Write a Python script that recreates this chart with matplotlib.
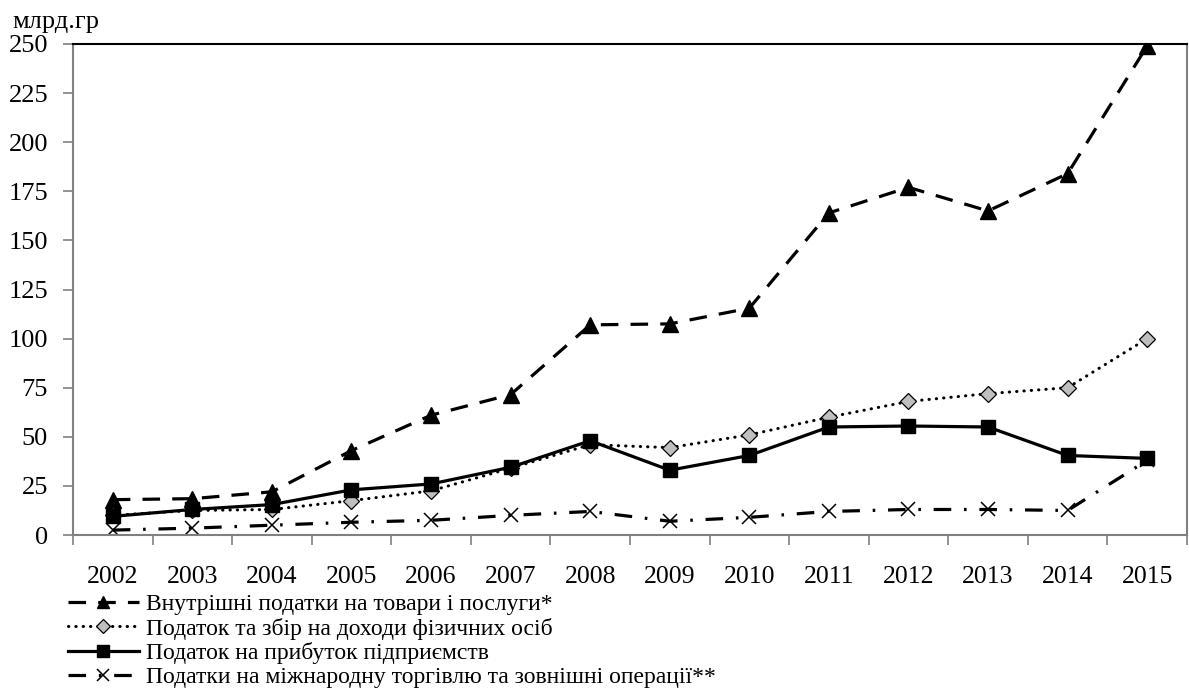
import numpy as np
import matplotlib
matplotlib.use("Agg")
import matplotlib.pyplot as plt

plt.rcParams['font.family'] = ['Liberation Serif', 'DejaVu Serif']

# data (млрд. грн)
years = ['2002', '2003', '2004', '2005', '2006', '2007', '2008',
         '2009', '2010', '2011', '2012', '2013', '2014', '2015']
vnutr = [18, 18.5, 22, 43, 61, 71.5, 107, 107.5, 115.5, 164, 177, 165, 184, 249]
pdfo = [10, 12.5, 13, 17.5, 22.5, 34, 46, 44.5, 51, 60, 68, 72, 75, 100]
prybutok = [9.5, 13, 15.5, 23, 26, 34.5, 48, 33, 40.5, 55, 55.5, 55, 40.5, 39]
mizhn = [2.5, 3.5, 5, 6.5, 7.5, 10, 12, 7, 9, 12, 13, 13, 12.5, 38]

labels = ['Внутрішні податки на товари і послуги*',
          'Податок та збір на доходи фізичних осіб',
          'Податок на прибуток підприємств',
          'Податки на міжнародну торгівлю та зовнішні операції**']

fig = plt.figure(figsize=(11.89, 6.96), dpi=100)
ax = fig.add_axes([0.0614, 0.2313, 0.9369, 0.7055])

x = np.arange(len(years))
ax.plot(x, vnutr, color='black', lw=2.3, dashes=(5.5, 3.8), marker='^', ms=11,
        mfc='black', mec='black', label=labels[0], zorder=3)
ax.plot(x, pdfo, color='black', lw=2.2, linestyle=(0, (0.1, 2.3)), dash_capstyle='round',
        marker='D', ms=8.5, mfc='#bfbfbf', mec='black', mew=0.9, label=labels[1], zorder=4)
ax.plot(x, prybutok, color='black', lw=2.3, linestyle='-', marker='s', ms=10.5,
        mfc='black', mec='black', label=labels[2], zorder=5)
ax.plot(x, mizhn, color='black', lw=2.3, dashes=(5.5, 4, 0.8, 4), marker='x', ms=10,
        mew=1.1, mec='black', label=labels[3], zorder=2)

ax.set_xlim(-0.5, len(years) - 0.5)
ax.set_ylim(0, 250)
ax.set_yticks(np.arange(0, 251, 25))
ax.set_xticks(np.arange(len(years) + 1) - 0.5, minor=False)
ax.set_xticklabels([])
ax.set_xticks(x, minor=True)
ax.set_xticklabels(years, minor=True)
ax.tick_params(axis='x', which='minor', length=0, pad=22, labelsize=18.5)
ax.tick_params(axis='x', which='major', length=7, color='#808080', width=1.2, direction='out')
ax.tick_params(axis='y', length=7, color='#808080', width=1.2, labelsize=19, pad=11)

for s in ['left', 'bottom', 'right']:
    ax.spines[s].set_color('#808080')
    ax.spines[s].set_linewidth(1.5)
ax.spines['top'].set_color('black')
ax.spines['top'].set_linewidth(1.5)

fig.text(0.010, 0.969, 'млрд.гр', fontsize=19, va='center', ha='left')

leg = fig.legend(loc='upper left', bbox_to_anchor=(0.057, 0.147), frameon=False,
                 fontsize=17, handlelength=3.0, handletextpad=0.3, labelspacing=0.1,
                 numpoints=1, markerscale=0.8, borderpad=0, borderaxespad=0)

fig.savefig('out.png', dpi=100)
